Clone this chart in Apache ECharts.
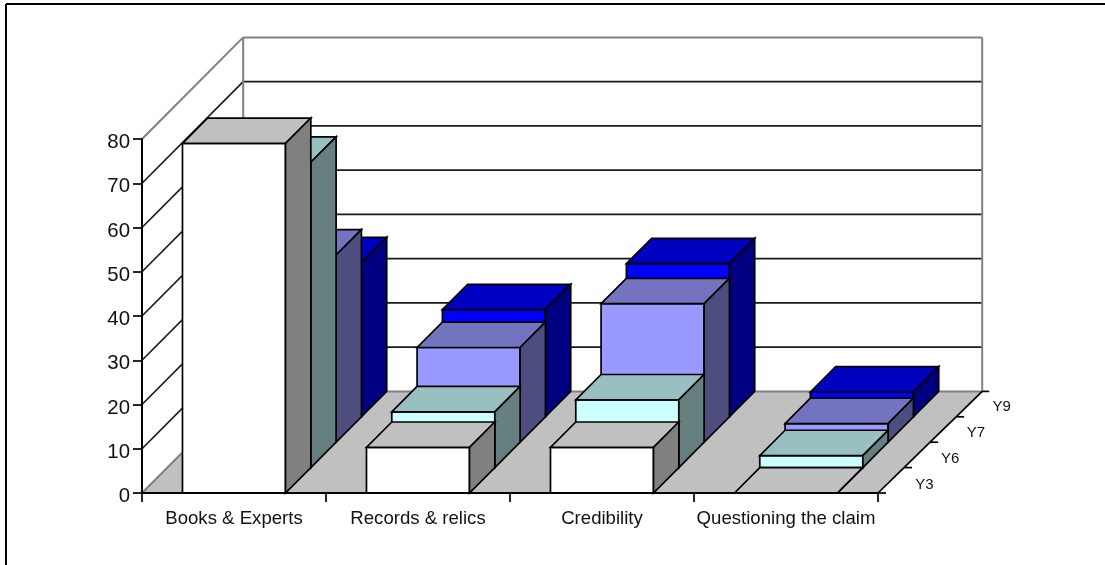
<!DOCTYPE html>
<html>
<head>
<meta charset="utf-8">
<style>html,body{margin:0;padding:0;background:#fff}#chart{width:1105px;height:565px}</style>
<script src="https://cdn.jsdelivr.net/npm/echarts@6/dist/echarts.min.js"></script>
</head>
<body>
<div id="chart"></div>
<script>
const categories = ['Books & Experts', 'Records & relics', 'Credibility', 'Questioning the claim'];
const yearLabels = ['Y3', 'Y6', 'Y7', 'Y9'];
const y3 = [79, 10.3, 10.3, 0];
const y6 = [69, 12.6, 15.3, 2.7];
const y7 = [42.3, 21.4, 31.3, 4.2];
const y9 = [34.8, 24.2, 34.6, 5.6];
const valueTicks = [0, 10, 20, 30, 40, 50, 60, 70, 80];

// Oblique projection: one year row shifts a bar this far right and up.
const ROW_DX = 25.3;
const ROW_DY = 25.4;
const ROWS = yearLabels.length;
const BACK_DX = ROW_DX * ROWS;
const BACK_DY = ROW_DY * ROWS;
const BACK_EXTRA = 3;
const BAR_RATIO = 0.56;
const FRAME = '#808080';
const INK = '#000';
const FLOOR = '#c0c0c0';
const STROKE = 1.7;

const shades = [
  { front: '#ffffff', top: '#c0c0c0', side: '#808080' },
  { front: '#ccffff', top: '#99c0c0', side: '#668080' },
  { front: '#9999ff', top: '#7373c0', side: '#4d4d80' },
  { front: '#0000ff', top: '#0000c0', side: '#000080' }
];

function poly(points, fill) {
  return {
    type: 'polygon',
    shape: { points },
    style: { fill, stroke: INK, lineWidth: STROKE, lineJoin: 'miter' }
  };
}

function line(x1, y1, x2, y2, stroke, lineWidth) {
  return { type: 'line', shape: { x1, y1, x2, y2 }, style: { stroke, lineWidth } };
}

// One solid column: front face, lid and right side, placed in its year row.
function barRenderer(row) {
  return function (params, api) {
    const base = api.coord([api.value(0), 0]);
    const head = api.coord([api.value(0), api.value(1)]);
    const w = api.size([1, 0])[0] * BAR_RATIO;
    const l = base[0] - w / 2 + ROW_DX * row;
    const r = l + w;
    const b = base[1] - ROW_DY * row;
    const t = head[1] - ROW_DY * row;
    const s = shades[row];
    return {
      type: 'group',
      children: [
        poly([[l, t], [r, t], [r, b], [l, b]], s.front),
        poly([[l, t], [l + ROW_DX, t - ROW_DY], [r + ROW_DX, t - ROW_DY], [r, t]], s.top),
        poly([[r, t], [r + ROW_DX, t - ROW_DY], [r + ROW_DX, b - ROW_DY], [r, b]], s.side)
      ]
    };
  };
}

function barSeries(name, values, row) {
  return {
    name,
    type: 'custom',
    coordinateSystem: 'cartesian2d',
    clip: false,
    z: 10 + (ROWS - row),
    silent: true,
    renderItem: barRenderer(row),
    encode: { x: 0, y: 1 },
    data: values.map((v, i) => [i, v])
  };
}

// Floor slab drawn once, below the rules of the two walls.
function floorRenderer(params) {
  const c = params.coordSys;
  const x0 = c.x, x1 = c.x + c.width, y0 = c.y + c.height;
  return {
    type: 'polygon',
    shape: { points: [[x0, y0], [x1, y0], [x1 + BACK_DX + BACK_EXTRA, y0 - BACK_DY], [x0 + BACK_DX, y0 - BACK_DY]] },
    style: { fill: FLOOR }
  };
}

// A rule across the left and back walls at each value tick.
function wallRenderer(params, api) {
  const c = params.coordSys;
  const v = api.value(1);
  const y = api.coord([0, v])[1];
  const x0 = c.x, x1 = c.x + c.width;
  const edge = v === 0 || v === 80;
  const colour = edge ? FRAME : '#1a1a1a';
  const width = edge ? 2 : STROKE;
  const children = [
    line(x0, y, x0 + BACK_DX, y - BACK_DY, colour, width),
    line(x0 + BACK_DX, y - BACK_DY, x1 + BACK_DX + BACK_EXTRA, y - BACK_DY, colour, width)
  ];
  if (v === 80) {
    const floorY = c.y + c.height - BACK_DY;
    children.push(line(x0 + BACK_DX, y - BACK_DY, x0 + BACK_DX, floorY, FRAME, 2));
    children.push(line(x1 + BACK_DX + BACK_EXTRA, y - BACK_DY, x1 + BACK_DX + BACK_EXTRA, floorY, FRAME, 2));
  }
  return { type: 'group', children };
}

// Depth axis along the right edge of the floor, with a label for each year row.
function depthRenderer(params, api) {
  const c = params.coordSys;
  const row = api.value(0);
  const x = c.x + c.width;
  const y = c.y + c.height;
  const stepX = (BACK_DX + BACK_EXTRA) / ROWS;
  const px = x + stepX * row, py = y - ROW_DY * row;
  const children = [
    line(px, py, px + stepX, py - ROW_DY, INK, STROKE),
    line(px, py, px + 8, py, INK, STROKE)
  ];
  if (row === ROWS - 1) {
    children.push(line(px + stepX, py - ROW_DY, px + stepX + 7, py - ROW_DY, INK, STROKE));
  }
  children.push({
    type: 'text',
    style: {
      text: yearLabels[row],
      x: px + stepX / 2 + 33.5 - row * 0.3,
      y: py - ROW_DY / 2 + 4.5 - row * 0.7,
      fill: '#111',
      font: '15px "Liberation Sans", Arial, sans-serif',
      align: 'center',
      verticalAlign: 'middle'
    }
  });
  return { type: 'group', children };
}

const chart = echarts.init(document.getElementById('chart'), null, { renderer: 'canvas' });
chart.setOption({
  animation: false,
  backgroundColor: '#fff',
  textStyle: { fontFamily: '"Liberation Sans", Arial, sans-serif' },
  grid: { left: 142, right: 227, top: 139, bottom: 72, containLabel: false },
  xAxis: {
    type: 'category',
    data: categories,
    axisLine: { lineStyle: { color: INK, width: 2 } },
    axisTick: { show: true, length: 9, lineStyle: { color: INK, width: STROKE } },
    axisLabel: { fontSize: 18.6, color: '#111', margin: 16, interval: 0 },
    splitLine: { show: false },
    z: 30
  },
  yAxis: {
    type: 'value',
    min: 0,
    max: 80,
    interval: 10,
    axisLine: { show: true, lineStyle: { color: INK, width: 2 } },
    axisTick: { show: true, length: 9, lineStyle: { color: INK, width: STROKE } },
    axisLabel: {
      margin: 12,
      formatter: '{n|{value}}',
      rich: { n: { fontSize: 20.4, color: '#111', padding: [7, 0, 0, 0] } }
    },
    splitLine: { show: false },
    z: 30
  },
  graphic: [
    { type: 'line', silent: true, shape: { x1: 6, y1: 4, x2: 1105, y2: 4 }, style: { stroke: INK, lineWidth: 2 } },
    { type: 'line', silent: true, shape: { x1: 6, y1: 4, x2: 6, y2: 565 }, style: { stroke: INK, lineWidth: 2 } }
  ],
  series: [
    {
      type: 'custom', coordinateSystem: 'cartesian2d', clip: false, silent: true, z: 1,
      renderItem: floorRenderer, data: [[0, 0]]
    },
    {
      type: 'custom', coordinateSystem: 'cartesian2d', clip: false, silent: true, z: 2,
      renderItem: wallRenderer, encode: { x: 0, y: 1 },
      data: valueTicks.map(v => [0, v])
    },
    {
      type: 'custom', coordinateSystem: 'cartesian2d', clip: false, silent: true, z: 3,
      renderItem: depthRenderer, data: yearLabels.map((_, i) => [i, 0])
    },
    barSeries('Y9', y9, 3),
    barSeries('Y7', y7, 2),
    barSeries('Y6', y6, 1),
    barSeries('Y3', y3, 0)
  ]
});
</script>
</body>
</html>
